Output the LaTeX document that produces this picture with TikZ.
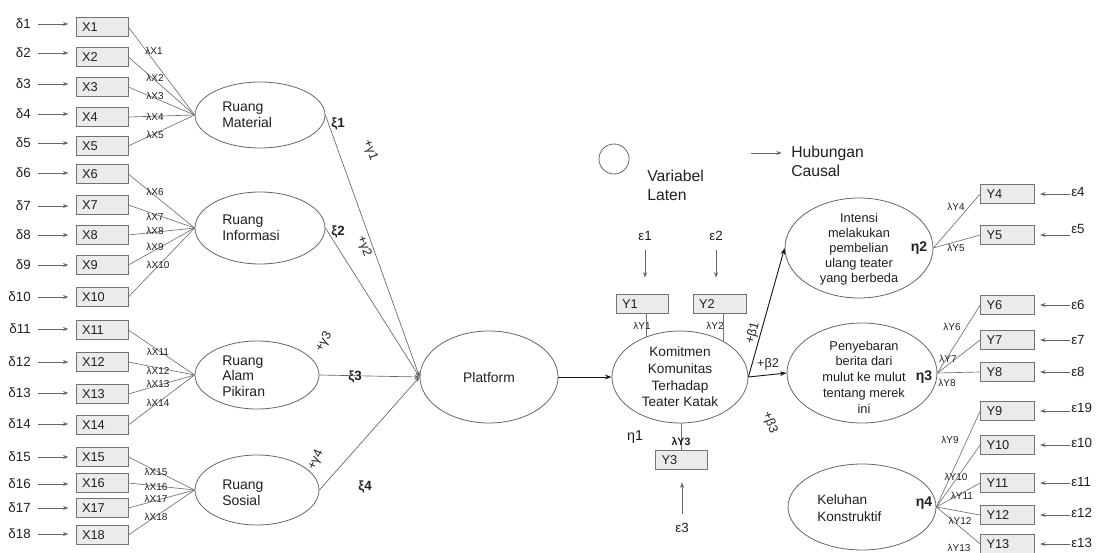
\documentclass[tikz,border=0pt]{standalone}
\usepackage{fontspec}
\setmainfont{Liberation Sans}
\usetikzlibrary{shapes.geometric,arrows.meta}

\begin{document}
\begin{tikzpicture}[x=0.75pt,y=-0.75pt,
  every node/.style={inner sep=0pt, text=black!88},
  obs/.style={rectangle, draw=black!55, fill=black!8, line width=0.5pt,
    minimum height=14.25pt, inner xsep=4.5pt, text width=30pt, align=left,
    font=\fontsize{9.6}{11}\selectfont},
  obsr/.style={obs, text width=31.5pt},
  lat/.style={ellipse, draw=black!60, line width=0.6pt},
  err/.style={font=\fontsize{10}{12}\selectfont},
  lam/.style={font=\fontsize{7.5}{8.5}\selectfont},
  lname/.style={font=\fontsize{10.5}{11.8}\selectfont, align=left},
  ctext/.style={align=center},
  xi/.style={font=\bfseries\fontsize{10}{12}\selectfont},
  coef/.style={font=\fontsize{9.5}{11}\selectfont},
  ld/.style={draw=black!55, line width=0.5pt},
  arr/.style={-{Stealth[length=4pt,width=3pt]}, draw=black!60, line width=0.5pt},
  carr/.style={-{Stealth[length=5pt,width=3.5pt]}, draw=black!90, line width=0.7pt}]

\useasboundingbox (0,0) rectangle (1100,553);

% ---------- exogenous latent variables ----------
\node[lat, minimum width=97.5pt, minimum height=49.5pt] (rm) at (260,115) {};
\node[lat, minimum width=97.5pt, minimum height=54pt] (ri) at (260,228) {};
\node[lat, minimum width=93pt, minimum height=51pt] (ra) at (257,375) {};
\node[lat, minimum width=93pt, minimum height=52.5pt] (rs) at (257,490) {};
\node[lname, anchor=west] (rmt) at (222,115) {Ruang\\Material};
\node[lname, anchor=west] (rit) at (222,228) {Ruang\\Informasi};
\node[lname, anchor=west] (rat) at (222,376) {Ruang\\Alam\\Pikiran};
\node[lname, anchor=west] (rst) at (222,493) {Ruang\\Sosial};

% ---------- X indicators with their errors ----------
\foreach \i/\by/\dy in {1/27/24, 2/57/53, 3/87/84, 4/117/114, 5/146/143,
  6/174/173, 7/205/206, 8/235/235, 9/265/265, 10/297/297, 11/330/329,
  12/362/362, 13/394/393, 14/425/424, 15/457/457, 16/483/484, 17/508/508,
  18/535/534} {
  \node[obs] (x\i) at (102,\by) {X\i};
  \node[err, anchor=east] (d\i) at (31,\dy) {δ\i};
  \draw[arr, shorten <=5pt, shorten >=5.5pt] (d\i.east) -- (d\i.east -| x\i.west);
}

% loadings of the X indicators
\foreach \i in {1,...,5} {\draw[ld] (x\i.east) -- (rm.west);}
\foreach \i in {6,...,10} {\draw[ld] (x\i.east) -- (ri.west);}
\foreach \i in {11,...,14} {\draw[ld] (x\i.east) -- (ra.west);}
\foreach \i in {15,...,18} {\draw[ld] (x\i.east) -- (rs.west);}

\foreach \i/\lx/\ly in {1/154/51, 2/155/78, 3/155/96, 4/155/117, 5/155/135,
  6/155/192, 7/155/217, 8/155/231, 9/155/247, 10/158/265,
  11/158/352, 12/158/371, 13/158/384, 14/158/403,
  15/156/472, 16/156/487, 17/156/499, 18/156/517} {
  \node[lam] (lx\i) at (\lx,\ly) {λX\i};
}

% ---------- Platform ----------
\node[lat, minimum width=103.5pt, minimum height=69pt] (pf) at (489,377) {};
\node[font=\fontsize{10.4}{12}\selectfont] (pft) at (489,378) {Platform};

\draw[arr] (rm.east) -- (pf.west);
\draw[arr] (ri.east) -- (pf.west);
\draw[arr] (ra.east) -- (pf.west);
\draw[arr] (rs.east) -- (pf.west);

\node[xi] (xi1) at (338,124) {ξ1};
\node[xi] (xi2) at (338,232) {ξ2};
\node[xi] (xi3) at (355,377) {ξ3};
\node[xi] (xi4) at (365,487) {ξ4};

\node[coef, rotate=-70] (g1) at (370,150) {+γ1};
\node[coef, rotate=-70] (g2) at (364,246) {+γ2};
\node[coef, rotate=60] (g3) at (324,342) {+γ3};
\node[coef, rotate=65] (g4) at (316,460) {+γ4};

% ---------- Komitmen (eta 1) ----------
\node[lat, minimum width=102pt, minimum height=69pt] (kom) at (680,377) {};
\node[ctext, font=\fontsize{10.2}{12.5}\selectfont] (komt) at (680,377)
  {Komitmen\\Komunitas\\Terhadap\\Teater Katak};
\draw[carr] (pf.east) -- (kom.west);

\node[obs] (y1) at (642,304) {Y1};
\node[obs, text width=30.75pt] (y2) at (719.5,304) {Y2};
\node[obs] (y3) at (681.5,460) {Y3};

\draw[ld] (kom.130.5) -- (kom.130.5 |- y1.south);
\draw[ld] (kom.40.8) -- (kom.40.8 |- y2.south);
\draw[ld] (y3.north) -- (y3.north |- kom.south);

\node[lam] (ly1) at (642,326) {λY1};
\node[lam] (ly2) at (715,326) {λY2};
\node[lam, font=\bfseries\fontsize{8}{9}\selectfont] (ly3) at (681,442) {λY3};

\node[err] (e1) at (645,236) {ε1};
\node[err] (e2) at (716,236) {ε2};
\node[err] (e3) at (682,528) {ε3};
\draw[arr, shorten <=7pt, shorten >=12.5pt] (e1.south) -- (e1.south |- y1.north);
\draw[arr, shorten <=7pt, shorten >=12.5pt] (e2.south) -- (e2.south |- y2.north);
\draw[arr, shorten <=7pt, shorten >=9.5pt] (e3.north) -- (e3.north |- y3.south);

\node[font=\fontsize{10.7}{12}\selectfont] (eta1) at (635,437) {η1};

% ---------- endogenous latent variables ----------
\node[lat, minimum width=111pt, minimum height=75pt] (int) at (859,248) {};
\node[ctext, font=\fontsize{9.6}{11.25}\selectfont] (intt) at (859,249)
  {Intensi\\melakukan\\pembelian\\ulang teater\\yang berbeda};
\node[lat, minimum width=112.5pt, minimum height=75pt] (pen) at (862,373) {};
\node[ctext, font=\fontsize{9.6}{11.8}\selectfont] (pent) at (864,377)
  {Penyebaran\\berita dari\\mulut ke mulut\\tentang merek\\ini};
\node[lat, minimum width=111pt, minimum height=64.5pt] (kel) at (862,507) {};
\node[lname, font=\fontsize{10.2}{12.5}\selectfont, anchor=west] (kelt) at (817,508)
  {Keluhan\\Konstruktif};

\draw[carr] (kom.east) -- (int.west);
\draw[carr] (kom.east) -- (pen.west);

\node[coef, rotate=74] (b1) at (753,333) {+β1};
\node[coef] (b2) at (768,364) {+β2};
\node[coef, rotate=-70] (b3) at (770,423) {+β3};

\node[xi, font=\bfseries\fontsize{10.5}{12}\selectfont] (eta2) at (919,248) {η2};
\node[xi, font=\bfseries\fontsize{10.5}{12}\selectfont] (eta3) at (924,377) {η3};
\node[xi, font=\bfseries\fontsize{10.5}{12}\selectfont] (eta4) at (924,503) {η4};

% ---------- Y indicators on the right ----------
\foreach \i/\by/\ey/\en in {4/194/192/4, 5/235/229/5, 6/305/305/6, 7/340/340/7,
  8/372/372/8, 9/411/408/19, 10/445/443/10, 11/483/482/11, 12/515/513/12,
  13/544/543/13} {
  \node[obsr] (y\i) at (1007.5,\by) {Y\i};
  \node[err, anchor=west] (e\en) at (1071,\ey) {ε\en};
  \draw[arr, shorten <=1pt, shorten >=4pt] (e\en.west |- y\i.east) -- (y\i.east);
}

\foreach \i in {4,5} {\draw[ld] (int.east) -- (y\i.west);}
\foreach \i in {6,7,8} {\draw[ld] (pen.east) -- (y\i.west);}
\foreach \i in {9,...,13} {\draw[ld] (kel.east) -- (y\i.west);}

\foreach \i/\lx/\ly in {4/956/207, 5/956/248, 6/952/327, 7/948/359, 8/947/383,
  9/950/440, 10/956/477, 11/962/496, 12/960/521, 13/959/548} {
  \node[lam] (ly\i) at (\lx,\ly) {λY\i};
}

% ---------- legend ----------
\node[circle, draw=black!60, line width=0.6pt, minimum size=22.5pt] (lgc) at (614,159) {};
\node[anchor=west, align=left, font=\fontsize{11.8}{14.25}\selectfont] (lgt) at (647,185.5)
  {Variabel\\Laten};
\node[anchor=west, align=left, font=\fontsize{11.8}{14.25}\selectfont] (lgh) at (791,161.5)
  {Hubungan\\Causal};
\coordinate (lga) at (751,153);
\draw[arr, shorten >=7pt] (lga) -- (lga -| lgh.west);

\end{tikzpicture}
\end{document}
